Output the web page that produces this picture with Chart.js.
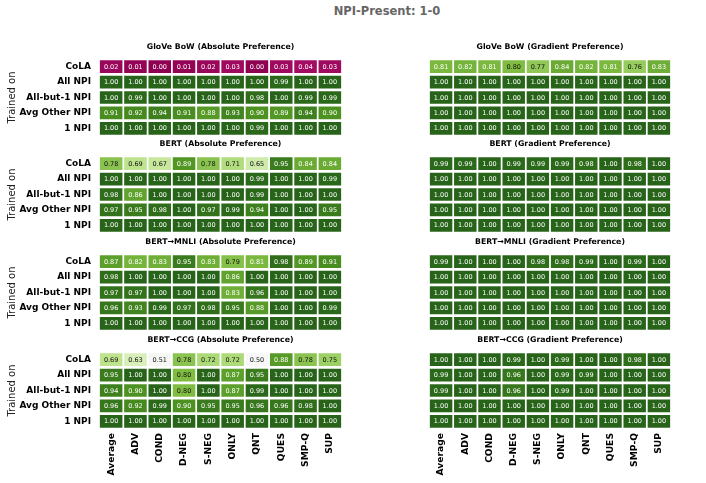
<!DOCTYPE html>
<html>
<head>
<meta charset="utf-8">
<script src="https://cdn.jsdelivr.net/npm/chart.js@4.4.1/dist/chart.umd.min.js"></script>
<style>
  body { margin: 0; background: #fff; }
  #wrap { position: relative; width: 706px; height: 483px; overflow: hidden; }
  #wrap canvas { position: absolute; }
  #mainTitle {
    position: absolute; left: 0; top: 4px; width: 774px; text-align: center;
    font: bold 11.5px "DejaVu Sans"; color: #666;
  }
</style>
</head>
<body>
<div id="wrap">
  <div id="mainTitle">NPI-Present: 1-0</div>
</div>
<script>
// 列與欄
const columns = ['Average', 'ADV', 'COND', 'D-NEG', 'S-NEG', 'ONLY', 'QNT', 'QUES', 'SMP-Q', 'SUP'];
const rows = ['CoLA', 'All NPI', 'All-but-1 NPI', 'Avg Other NPI', '1 NPI'];

// 每個面板的數值（由上到下的列）
const gloveAbs = [
    [0.02, 0.01, 0.00, 0.01, 0.02, 0.03, 0.00, 0.03, 0.04, 0.03],
    [1.00, 1.00, 1.00, 1.00, 1.00, 1.00, 1.00, 0.99, 1.00, 1.00],
    [1.00, 0.99, 1.00, 1.00, 1.00, 1.00, 0.98, 1.00, 0.99, 0.99],
    [0.91, 0.92, 0.94, 0.91, 0.88, 0.93, 0.90, 0.89, 0.94, 0.90],
    [1.00, 1.00, 1.00, 1.00, 1.00, 1.00, 0.99, 1.00, 1.00, 1.00]
];
const gloveGrad = [
    [0.81, 0.82, 0.81, 0.80, 0.77, 0.84, 0.82, 0.81, 0.76, 0.83],
    [1.00, 1.00, 1.00, 1.00, 1.00, 1.00, 1.00, 1.00, 1.00, 1.00],
    [1.00, 1.00, 1.00, 1.00, 1.00, 1.00, 1.00, 1.00, 1.00, 1.00],
    [1.00, 1.00, 1.00, 1.00, 1.00, 1.00, 1.00, 1.00, 1.00, 1.00],
    [1.00, 1.00, 1.00, 1.00, 1.00, 1.00, 1.00, 1.00, 1.00, 1.00]
];
const bertAbs = [
    [0.78, 0.69, 0.67, 0.89, 0.78, 0.71, 0.65, 0.95, 0.84, 0.84],
    [1.00, 1.00, 1.00, 1.00, 1.00, 1.00, 0.99, 1.00, 1.00, 0.99],
    [0.98, 0.86, 1.00, 1.00, 1.00, 1.00, 0.99, 1.00, 1.00, 1.00],
    [0.97, 0.95, 0.98, 1.00, 0.97, 0.99, 0.94, 1.00, 1.00, 0.95],
    [1.00, 1.00, 1.00, 1.00, 1.00, 1.00, 1.00, 1.00, 1.00, 1.00]
];
const bertGrad = [
    [0.99, 0.99, 1.00, 0.99, 0.99, 0.99, 0.98, 1.00, 0.98, 1.00],
    [1.00, 1.00, 1.00, 1.00, 1.00, 1.00, 1.00, 1.00, 1.00, 1.00],
    [1.00, 1.00, 1.00, 1.00, 1.00, 1.00, 1.00, 1.00, 1.00, 1.00],
    [1.00, 1.00, 1.00, 1.00, 1.00, 1.00, 1.00, 1.00, 1.00, 1.00],
    [1.00, 1.00, 1.00, 1.00, 1.00, 1.00, 1.00, 1.00, 1.00, 1.00]
];
const mnliAbs = [
    [0.87, 0.82, 0.83, 0.95, 0.83, 0.79, 0.81, 0.98, 0.89, 0.91],
    [0.98, 1.00, 1.00, 1.00, 1.00, 0.86, 1.00, 1.00, 1.00, 1.00],
    [0.97, 0.97, 1.00, 1.00, 1.00, 0.83, 0.96, 1.00, 1.00, 1.00],
    [0.96, 0.93, 0.99, 0.97, 0.98, 0.95, 0.88, 1.00, 1.00, 0.99],
    [1.00, 1.00, 1.00, 1.00, 1.00, 1.00, 1.00, 1.00, 1.00, 1.00]
];
const mnliGrad = [
    [0.99, 1.00, 1.00, 1.00, 0.98, 0.98, 0.99, 1.00, 0.99, 1.00],
    [1.00, 1.00, 1.00, 1.00, 1.00, 1.00, 1.00, 1.00, 1.00, 1.00],
    [1.00, 1.00, 1.00, 1.00, 1.00, 1.00, 1.00, 1.00, 1.00, 1.00],
    [1.00, 1.00, 1.00, 1.00, 1.00, 1.00, 1.00, 1.00, 1.00, 1.00],
    [1.00, 1.00, 1.00, 1.00, 1.00, 1.00, 1.00, 1.00, 1.00, 1.00]
];
const ccgAbs = [
    [0.69, 0.63, 0.51, 0.78, 0.72, 0.72, 0.50, 0.88, 0.78, 0.75],
    [0.95, 1.00, 1.00, 0.80, 1.00, 0.87, 0.95, 1.00, 1.00, 1.00],
    [0.94, 0.90, 1.00, 0.80, 1.00, 0.87, 0.99, 1.00, 1.00, 1.00],
    [0.96, 0.92, 0.99, 0.90, 0.95, 0.95, 0.96, 0.96, 0.98, 1.00],
    [1.00, 1.00, 1.00, 1.00, 1.00, 1.00, 1.00, 1.00, 1.00, 1.00]
];
const ccgGrad = [
    [1.00, 1.00, 1.00, 0.99, 1.00, 0.99, 1.00, 1.00, 0.98, 1.00],
    [0.99, 1.00, 1.00, 0.96, 1.00, 0.99, 0.99, 1.00, 1.00, 1.00],
    [0.99, 1.00, 1.00, 0.96, 1.00, 0.99, 1.00, 1.00, 1.00, 1.00],
    [1.00, 1.00, 1.00, 1.00, 1.00, 1.00, 1.00, 1.00, 1.00, 1.00],
    [1.00, 1.00, 1.00, 1.00, 1.00, 1.00, 1.00, 1.00, 1.00, 1.00]
];

const panels = [
    { title: 'GloVe BoW (Absolute Preference)', values: gloveAbs, side: 0, row: 0 },
    { title: 'GloVe BoW (Gradient Preference)', values: gloveGrad, side: 1, row: 0 },
    { title: 'BERT (Absolute Preference)', values: bertAbs, side: 0, row: 1 },
    { title: 'BERT (Gradient Preference)', values: bertGrad, side: 1, row: 1 },
    { title: 'BERT→MNLI (Absolute Preference)', values: mnliAbs, side: 0, row: 2 },
    { title: 'BERT→MNLI (Gradient Preference)', values: mnliGrad, side: 1, row: 2 },
    { title: 'BERT→CCG (Absolute Preference)', values: ccgAbs, side: 0, row: 3 },
    { title: 'BERT→CCG (Gradient Preference)', values: ccgGrad, side: 1, row: 3 }
];

// PiYG 色階 (0 → 1)
const piygStops = ['#8e0152', '#c51b7d', '#de77ae', '#f1b6da', '#fde0ef', '#f7f7f7',
                   '#e6f5d0', '#b8e186', '#7fbc41', '#4d9221', '#276419'];

function hexToRgb(h) {
    return [parseInt(h.slice(1, 3), 16), parseInt(h.slice(3, 5), 16), parseInt(h.slice(5, 7), 16)];
}

function piyg(v) {
    const t = Math.max(0, Math.min(1, v)) * (piygStops.length - 1);
    const i = Math.min(Math.floor(t), piygStops.length - 2);
    const f = t - i;
    const a = hexToRgb(piygStops[i]), b = hexToRgb(piygStops[i + 1]);
    const c = a.map((x, k) => Math.round(x + (b[k] - x) * f));
    return `rgb(${c[0]},${c[1]},${c[2]})`;
}

function textColour(v) {
    return (v >= 0.2 && v <= 0.8) ? '#111' : '#fff';
}

Chart.defaults.font.family = '"DejaVu Sans"';
Chart.defaults.color = '#000';

// 外掛：格子內的數字
const cellLabels = {
    id: 'cellLabels',
    afterDatasetsDraw(chart) {
        const ctx = chart.ctx;
        ctx.save();
        ctx.font = '6.5px "DejaVu Sans"';
        ctx.textAlign = 'center';
        ctx.textBaseline = 'middle';
        chart.data.datasets.forEach((ds, i) => {
            chart.getDatasetMeta(i).data.forEach((bar, j) => {
                const v = ds.values[j];
                ctx.fillStyle = textColour(v);
                ctx.fillText(v.toFixed(2), bar.x, (bar.y + bar.base) / 2 + 0.5);
            });
        });
        ctx.restore();
    }
};

// 外掛：面板標題（置中於繪圖區）
const panelTitle = {
    id: 'panelTitle',
    afterDraw(chart, args, opts) {
        const ctx = chart.ctx;
        const area = chart.chartArea;
        ctx.save();
        ctx.font = 'bold 7.8px "DejaVu Sans"';
        ctx.fillStyle = '#000';
        ctx.textAlign = 'center';
        ctx.textBaseline = 'middle';
        ctx.fillText(opts.text, (area.left + area.right) / 2, area.top - 12);
        ctx.restore();
    }
};

const cellTops = [59, 156, 254, 352];
const cellHeight = 77;
const topPad = 20;
const bottomAxis = 483 - (cellTops[3] + cellHeight);
const wrap = document.getElementById('wrap');

panels.forEach(p => {
    const left = p.side === 0;
    const bottom = p.row === 3;
    const canvas = document.createElement('canvas');
    const w = left ? 344 : 242;
    const h = topPad + cellHeight + (bottom ? bottomAxis : 0);
    canvas.width = w;
    canvas.height = h;
    canvas.style.left = (left ? 0 : 429) + 'px';
    canvas.style.top = (cellTops[p.row] - topPad) + 'px';
    wrap.appendChild(canvas);

    // 資料集由下往上堆疊：1 NPI 在最底
    const datasets = rows.slice().reverse().map((name, k) => {
        const vals = p.values[rows.length - 1 - k];
        return {
            label: name,
            values: vals,
            data: vals.map(() => 1),
            backgroundColor: vals.map(piyg),
            borderColor: '#fff',
            borderWidth: { left: 1.2, right: 1.2, top: 1.7, bottom: 1.7 },
            borderSkipped: false,
            barPercentage: 1,
            categoryPercentage: 1
        };
    });

    new Chart(canvas, {
        type: 'bar',
        data: { labels: columns, datasets: datasets },
        plugins: [cellLabels, panelTitle],
        options: {
            responsive: false,
            animation: false,
            devicePixelRatio: 1,
            layout: { padding: { top: topPad, right: left ? 2 : 0, left: 0, bottom: 0 } },
            plugins: {
                legend: { display: false },
                tooltip: { enabled: false },
                panelTitle: { text: p.title }
            },
            scales: {
                x: {
                    stacked: true,
                    display: bottom,
                    grid: { display: false, drawTicks: false },
                    border: { display: false },
                    ticks: {
                        autoSkip: false,
                        maxRotation: 90,
                        minRotation: 90,
                        padding: 4,
                        font: { size: 9.2, weight: 'bold' },
                        color: '#000'
                    },
                    afterFit: s => {
                        s.height = bottom ? bottomAxis : 0;
                        s.paddingLeft = 0;
                        s.paddingRight = 0;
                    }
                },
                y: {
                    stacked: true,
                    min: 0,
                    max: rows.length,
                    display: left,
                    grid: { display: false, drawTicks: false },
                    border: { display: false },
                    afterBuildTicks: s => {
                        s.ticks = rows.map((r, k) => ({ value: k + 0.5 }));
                    },
                    ticks: {
                        padding: 8,
                        font: { size: 9, weight: 'bold' },
                        color: '#000',
                        callback: v => rows[rows.length - 1 - Math.floor(v)]
                    },
                    title: {
                        display: true,
                        text: 'Trained on',
                        font: { size: 10 },
                        color: '#222',
                        padding: { top: 6, bottom: 0 }
                    },
                    afterFit: s => {
                        s.width = left ? 99 : 0;
                        s.paddingTop = 0;
                        s.paddingBottom = 0;
                    }
                }
            }
        }
    });
});
</script>
</body>
</html>
